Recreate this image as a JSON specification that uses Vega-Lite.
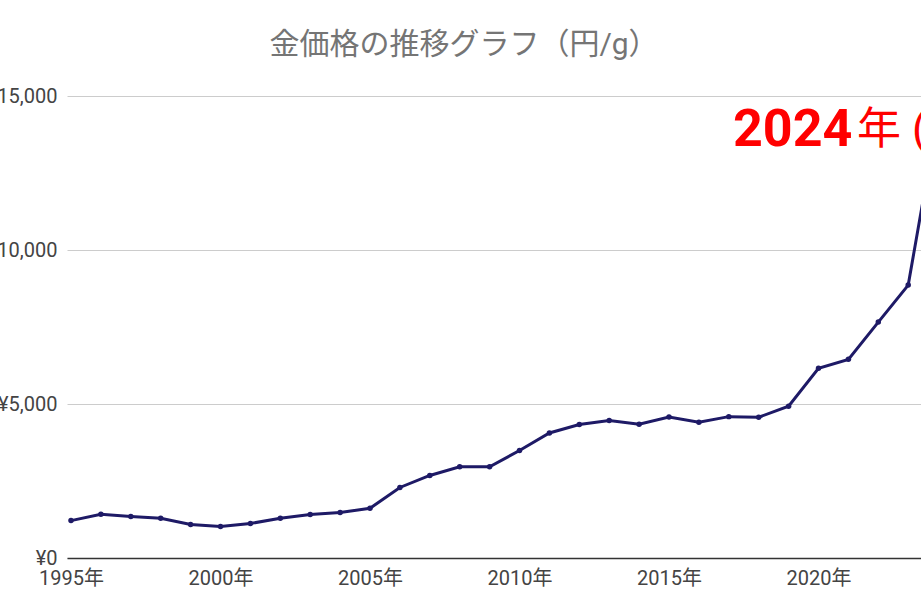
{
  "$schema": "https://vega.github.io/schema/vega-lite/v6.json",
  "autosize": {"type": "none"},
  "padding": {"left": 67, "top": 96, "right": 0, "bottom": 56},
  "width": 854,
  "height": 462,
  "background": "white",
  "title": {
    "text": "金価格の推移グラフ（円/g）",
    "font": "Roboto, Noto Sans CJK JP",
    "fontSize": 30,
    "fontWeight": "normal",
    "color": "#757575",
    "anchor": "middle",
    "dx": -30,
    "offset": 26
  },
  "datasets": {
    "gold": [
      {"year": 1995, "price": 1214},
      {"year": 1996, "price": 1420},
      {"year": 1997, "price": 1345},
      {"year": 1998, "price": 1290},
      {"year": 1999, "price": 1085},
      {"year": 2000, "price": 1020},
      {"year": 2001, "price": 1120},
      {"year": 2002, "price": 1290},
      {"year": 2003, "price": 1410},
      {"year": 2004, "price": 1475},
      {"year": 2005, "price": 1615},
      {"year": 2006, "price": 2290},
      {"year": 2007, "price": 2680},
      {"year": 2008, "price": 2960},
      {"year": 2009, "price": 2960},
      {"year": 2010, "price": 3490},
      {"year": 2011, "price": 4060},
      {"year": 2012, "price": 4335},
      {"year": 2013, "price": 4465},
      {"year": 2014, "price": 4340},
      {"year": 2015, "price": 4580},
      {"year": 2016, "price": 4405},
      {"year": 2017, "price": 4590},
      {"year": 2018, "price": 4570},
      {"year": 2019, "price": 4930},
      {"year": 2020, "price": 6160},
      {"year": 2021, "price": 6450},
      {"year": 2022, "price": 7660},
      {"year": 2023, "price": 8860},
      {"year": 2024, "price": 14400}
    ],
    "notes": [
      {"year": 2017.14, "price": 13880, "label": "2024", "bold": "yes"},
      {"year": 2021.29, "price": 13860, "label": "年 (14,400円)", "bold": "no"}
    ]
  },
  "encoding": {
    "x": {
      "field": "year",
      "type": "quantitative",
      "scale": {"domain": [1994.866, 2023.428], "nice": false, "zero": false},
      "axis": {
        "title": null,
        "values": [1995, 2000, 2005, 2010, 2015, 2020],
        "labelExpr": "datum.value + '年'",
        "labelFont": "Roboto, Noto Sans CJK JP",
        "labelFontSize": 20,
        "labelColor": "#444444",
        "labelPadding": 10,
        "labelFlush": false,
        "ticks": false,
        "grid": false,
        "domainColor": "#333333",
        "domainWidth": 1.5
      }
    },
    "y": {
      "field": "price",
      "type": "quantitative",
      "scale": {"domain": [0, 15000], "nice": false},
      "axis": {
        "title": null,
        "values": [0, 5000, 10000, 15000],
        "labelExpr": "'¥' + format(datum.value, ',')",
        "labelFont": "Roboto",
        "labelFontSize": 20,
        "labelColor": "#444444",
        "labelPadding": 10,
        "ticks": false,
        "domain": false,
        "gridColor": "#cccccc",
        "gridWidth": 1
      }
    }
  },
  "layer": [
    {
      "data": {"name": "gold"},
      "mark": {"type": "line", "color": "#1e1a66", "strokeWidth": 3, "clip": true}
    },
    {
      "data": {"name": "gold"},
      "mark": {"type": "point", "filled": true, "color": "#1e1a66", "size": 30, "opacity": 1, "clip": true}
    },
    {
      "data": {"name": "notes"},
      "transform": [{"filter": "datum.bold == 'yes'"}],
      "mark": {"type": "text", "align": "left", "baseline": "middle", "font": "Roboto", "fontSize": 52, "fontWeight": "bold", "color": "#ff0000", "clip": true},
      "encoding": {"text": {"field": "label"}}
    },
    {
      "data": {"name": "notes"},
      "transform": [{"filter": "datum.bold == 'no'"}],
      "mark": {"type": "text", "align": "left", "baseline": "middle", "font": "Roboto, Noto Sans CJK JP", "fontSize": 44, "fontWeight": "normal", "color": "#ff0000", "clip": true},
      "encoding": {"text": {"field": "label"}}
    }
  ],
  "config": {"view": {"stroke": null}}
}
